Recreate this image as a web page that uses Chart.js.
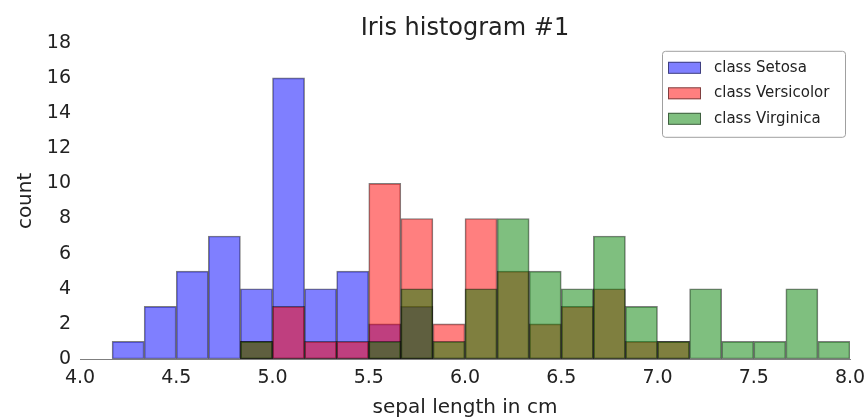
<!DOCTYPE html>
<html>
<head>
<meta charset="utf-8">
<script src="https://cdn.jsdelivr.net/npm/chart.js@4.4.1/dist/chart.umd.min.js"></script>
<style>
  html, body { margin: 0; padding: 0; background: #fff; }
  #wrap { width: 868px; height: 420px; }
</style>
</head>
<body>
<div id="wrap"><canvas id="irisHist"></canvas></div>
<script>
// 24 bins between 4.0 and 8.0 cm
const binLabels = [
    "4.00-4.17", "4.17-4.33", "4.33-4.50", "4.50-4.67", "4.67-4.83", "4.83-5.00",
    "5.00-5.17", "5.17-5.33", "5.33-5.50", "5.50-5.67", "5.67-5.83", "5.83-6.00",
    "6.00-6.17", "6.17-6.33", "6.33-6.50", "6.50-6.67", "6.67-6.83", "6.83-7.00",
    "7.00-7.17", "7.17-7.33", "7.33-7.50", "7.50-7.67", "7.67-7.83", "7.83-8.00"
];
const setosa     = [0, 1, 3, 5, 7, 4, 16, 4, 5, 2, 3, 0, 0, 0, 0, 0, 0, 0, 0, 0, 0, 0, 0, 0];
const versicolor = [0, 0, 0, 0, 0, 1, 3, 1, 1, 10, 8, 2, 8, 5, 2, 3, 4, 1, 1, 0, 0, 0, 0, 0];
const virginica  = [0, 0, 0, 0, 0, 1, 0, 0, 0, 1, 4, 1, 4, 8, 5, 4, 7, 3, 1, 4, 1, 1, 4, 1];
const xTicks = [4.0, 4.5, 5.0, 5.5, 6.0, 6.5, 7.0, 7.5, 8.0];
const yTicks = [0, 2, 4, 6, 8, 10, 12, 14, 16, 18];

const FONT = "'DejaVu Sans', sans-serif";
const edge = "rgba(0,0,0,0.5)";

// legend drawn as a framed box inside the plot, like matplotlib
const boxLegend = {
    id: "boxLegend",
    afterDraw(chart) {
        const ctx = chart.ctx;
        const area = chart.chartArea;
        const x = area.right - 188, y = area.top + 8, w = 183, h = 86;
        ctx.save();
        ctx.fillStyle = "rgba(255,255,255,0.9)";
        ctx.strokeStyle = "#a0a0a0";
        ctx.lineWidth = 1;
        ctx.beginPath();
        ctx.roundRect(x + 0.5, y + 0.5, w, h, 3);
        ctx.fill();
        ctx.stroke();
        ctx.font = "15px " + FONT;
        ctx.textBaseline = "middle";
        chart.data.datasets.forEach((ds, i) => {
            const cy = y + 17 + i * 25.5;
            ctx.fillStyle = ds.backgroundColor;
            ctx.fillRect(x + 6, cy - 6, 33, 12);
            ctx.strokeStyle = edge;
            ctx.strokeRect(x + 6.5, cy - 5.5, 32, 11);
            ctx.fillStyle = "#222";
            ctx.fillText(ds.label, x + 52, cy);
        });
        ctx.restore();
    }
};

const ctx = document.getElementById("irisHist").getContext("2d");
const chart = new Chart(ctx, {
    type: "bar",
    data: {
        labels: binLabels,
        datasets: [
            { label: "class Setosa", data: setosa, backgroundColor: "rgba(0,0,255,0.5)", order: 3 },
            { label: "class Versicolor", data: versicolor, backgroundColor: "rgba(255,0,0,0.5)", order: 2 },
            { label: "class Virginica", data: virginica, backgroundColor: "rgba(0,128,0,0.5)", order: 1 }
        ]
    },
    options: {
        responsive: true,
        maintainAspectRatio: false,
        animation: false,
        layout: { padding: { top: 0, right: 18, left: 0, bottom: 0 } },
        datasets: {
            bar: {
                grouped: false,
                barPercentage: 1,
                categoryPercentage: 1,
                borderColor: edge,
                borderWidth: 1,
                borderSkipped: false
            }
        },
        scales: {
            x: { display: false },
            x2: {
                type: "linear",
                position: "bottom",
                offset: false,
                min: 4, max: 8,
                grid: { display: false, drawTicks: false, offset: false },
                border: { display: true, color: edge },
                afterBuildTicks: axis => { axis.ticks = xTicks.map(v => ({ value: v })); },
                ticks: {
                    padding: 8,
                    color: "#222",
                    font: { family: FONT, size: 19 },
                    callback: v => v.toFixed(1)
                },
                title: {
                    display: true,
                    text: "sepal length in cm",
                    color: "#222",
                    font: { family: FONT, size: 20 },
                    padding: { top: 0, bottom: 0 }
                },
                afterFit: axis => {
                    axis.height = 61;
                    axis.paddingLeft = 0;
                    axis.paddingRight = 0;
                }
            },
            y: {
                min: 0, max: 18,
                grid: { display: false, drawTicks: false },
                border: { display: false },
                afterBuildTicks: axis => { axis.ticks = yTicks.map(v => ({ value: v })); },
                ticks: {
                    padding: 9,
                    color: "#222",
                    font: { family: FONT, size: 19 }
                },
                title: {
                    display: true,
                    text: "count",
                    color: "#222",
                    font: { family: FONT, size: 20 },
                    padding: { top: 14, bottom: 0 }
                },
                afterFit: axis => {
                    axis.width = 80;
                    axis.paddingTop = 0;
                    axis.paddingBottom = 0;
                }
            }
        },
        plugins: {
            legend: { display: false },
            tooltip: { enabled: false },
            title: {
                display: true,
                fullSize: false,
                text: "Iris histogram #1",
                color: "#222",
                font: { family: FONT, size: 24, weight: "normal" },
                padding: { top: 14, bottom: 0 }
            }
        }
    },
    plugins: [boxLegend]
});
</script>
</body>
</html>
